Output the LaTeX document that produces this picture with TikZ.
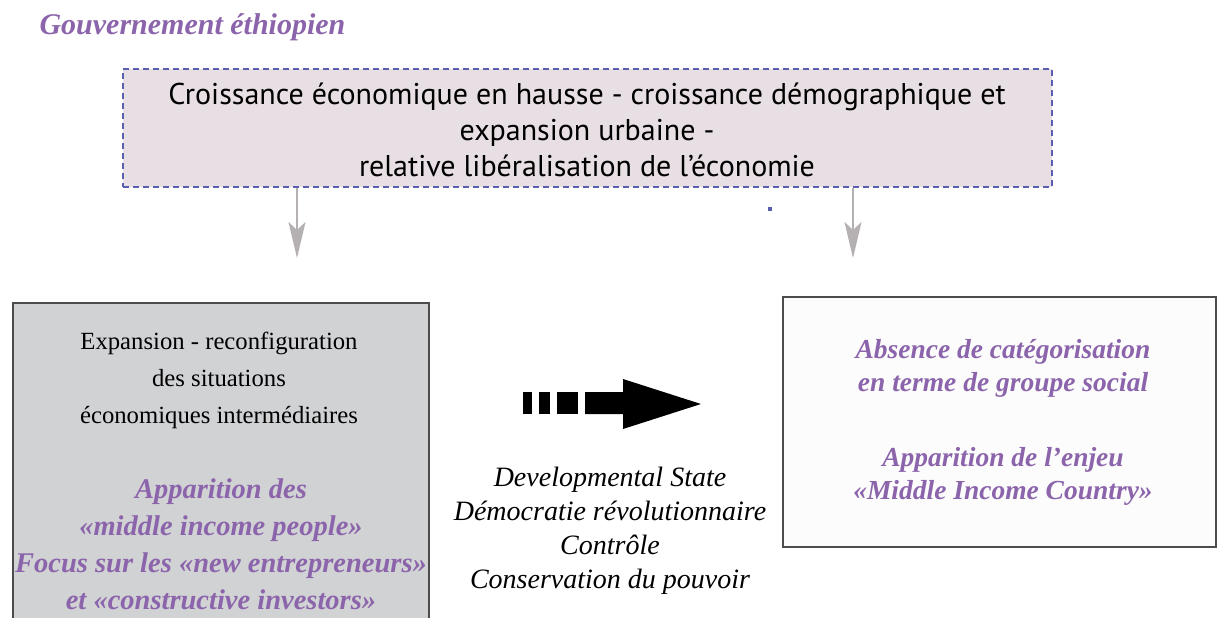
\documentclass[tikz,border=0pt]{standalone}
\usepackage{fontspec}
\setmainfont{Liberation Serif}
\setsansfont{PT Sans}
\usetikzlibrary{arrows.meta}
\usetikzlibrary{positioning}
\definecolor{mauve}{HTML}{8B64AB}
\definecolor{fondrose}{HTML}{E7DFE3}
\definecolor{bleutiret}{HTML}{5A5EAE}
\definecolor{grisfleche}{HTML}{B5B1B2}
\definecolor{fondgris}{HTML}{D1D2D4}
\tikzset{
  boiterose/.style={draw=bleutiret, dash pattern=on 6pt off 4pt, fill=fondrose, line width=1.2pt},
  boitegrise/.style={draw=black!70, fill=fondgris, line width=1.2pt},
  boiteblanche/.style={draw=black!70, fill=black!1, line width=1.2pt},
  flechegrise/.style={draw=grisfleche, line width=2.5pt, -{Stealth[length=36pt, width=17pt, inset=8pt]}},
  titremauve/.style={text=mauve, font=\bfseries\itshape},
}
\newcommand{\tiret}[2]{ \fill[black] ( #1 , 392 ) rectangle ( #2 , 414 );}

\begin{document}
\begin{tikzpicture}[x=1pt, y=-1pt]
        \useasboundingbox (0,0) rectangle (1221,618);
        \clip (0,0) rectangle (1221,618);
        % titre
        \node[titremauve, font=\fontsize{30}{32}\selectfont\bfseries\itshape, anchor=west] (gouv) at (36,27) {Gouvernement éthiopien};

        % contexte
        \node[boiterose, minimum width=929, minimum height=118] (contexte) at (587.5,128) {};
        \node[align=center, font=\sffamily\fontsize{30}{36}\selectfont] (croissance) at (587,130)
              {Croissance économique en hausse - croissance démographique et\\
               expansion urbaine -\\
               relative libéralisation de l’économie};

        % fleches grises
        \coordinate (finA) at (297,258);
        \coordinate (finB) at (853,258);
        \draw[flechegrise] (contexte.south -| finA) -- (finA);
        \draw[flechegrise] (contexte.south -| finB) -- (finB);
        \fill[bleutiret] (768,207) rectangle (772,211);

        % boite gauche
        \node[boitegrise, minimum width=416, minimum height=337] (expansion) at (221,471.5) {};
        \node[align=center, font=\fontsize{24.7}{37}\selectfont] (situations) at (219,380)
              {Expansion - reconfiguration\\ des situations\\ économiques intermédiaires};
        \node[titremauve, align=center, font=\fontsize{28.5}{37}\selectfont\bfseries\itshape] (apparition) at (221,544)
              {Apparition des\\ «middle income people»\\ Focus sur les «new entrepreneurs»\\ et «constructive investors»};

        % grosse fleche
        \tiret{523}{532}
        \tiret{539}{550}
        \tiret{557}{578}
        \fill[black] (585,392) -- (623,392) -- (623,379) -- (701,404) -- (623,429) -- (623,414) -- (585,414) -- cycle;
        \coordinate (pointe) at (701,404);

        % texte du milieu
        \node[align=center, font=\itshape\fontsize{28}{34}\selectfont] (politique) at (610,531)
              {Developmental State\\ Démocratie révolutionnaire\\ Contrôle\\ Conservation du pouvoir};

        % boite droite
        \node[boiteblanche, minimum width=433, minimum height=250] (absence) at (999.5,422) {};
        \node[titremauve, align=center, font=\fontsize{27.5}{33}\selectfont\bfseries\itshape] (enjeu) at (1003,422)
              {Absence de catégorisation\\ en terme de groupe social\\[42pt]
               Apparition de l’enjeu\\ «Middle Income Country»};
\end{tikzpicture}
\end{document}
